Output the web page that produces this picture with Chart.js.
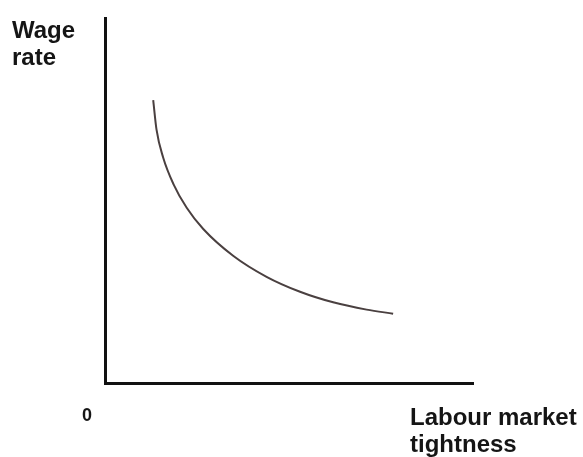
<!DOCTYPE html>
<html>
<head>
<meta charset="utf-8">
<script src="https://cdn.jsdelivr.net/npm/chart.js@4.4.1/dist/chart.umd.min.js"></script>
<style>
  body { margin: 0; background: #fff; }
  canvas { display: block; }
</style>
</head>
<body>
<canvas id="mychart" width="583" height="457"></canvas>
<script>
// curve (x: tightness, y: wage, both on 0..100)
const tightness = [13.1, 14.0, 15.8, 18.6, 22.2, 26.7, 34.9, 43.9, 53.0, 62.0, 71.1, 78.3];
const wage = [77.5, 69.4, 61.8, 54.5, 48.0, 42.2, 34.8, 29.1, 25.0, 22.1, 20.1, 19.0];

const yTitle = ['Wage', 'rate'];
const xTitle = ['Labour market', 'tightness'];
const originLabel = '0';

const points = tightness.map((t, i) => ({x: t, y: wage[i]}));

// labels sit outside the axes, so draw them by hand
const labelsPlugin = {
    id: 'labels',
    afterDraw(chart) {
        const c = chart.ctx;
        const area = chart.chartArea;
        c.save();
        c.fillStyle = '#151515';
        c.font = 'bold 24px "Liberation Sans", Arial, sans-serif';
        c.textBaseline = 'alphabetic';
        c.textAlign = 'left';
        c.fillText(yTitle[0], 12, 38);
        c.fillText(yTitle[1], 12, 65);
        c.fillText(xTitle[0], area.right - 63, area.bottom + 42);
        c.fillText(xTitle[1], area.right - 63, area.bottom + 69);
        c.font = 'bold 18px "Liberation Sans", Arial, sans-serif';
        c.textAlign = 'center';
        c.fillText(originLabel, area.left - 18, area.bottom + 38);
        c.restore();
    }
};

const ctx = document.getElementById('mychart').getContext('2d');

const mychart = new Chart(ctx, {
    type: 'scatter',
    data: {
        datasets: [{
            data: points,
            showLine: true,
            borderColor: '#4a4040',
            borderWidth: 2,
            pointRadius: 0,
            cubicInterpolationMode: 'monotone',
            fill: false
        }]
    },
    options: {
        responsive: false,
        animation: false,
        layout: {
            padding: {left: 97, right: 110, top: 18, bottom: 66}
        },
        scales: {
            x: {
                type: 'linear',
                min: 0,
                max: 100,
                grid: {display: false},
                border: {color: '#111', width: 3},
                ticks: {display: false}
            },
            y: {
                type: 'linear',
                min: 0,
                max: 100,
                grid: {display: false},
                border: {color: '#111', width: 3},
                ticks: {display: false}
            }
        },
        plugins: {
            legend: {display: false},
            tooltip: {enabled: false}
        }
    },
    plugins: [labelsPlugin]
});
</script>
</body>
</html>
